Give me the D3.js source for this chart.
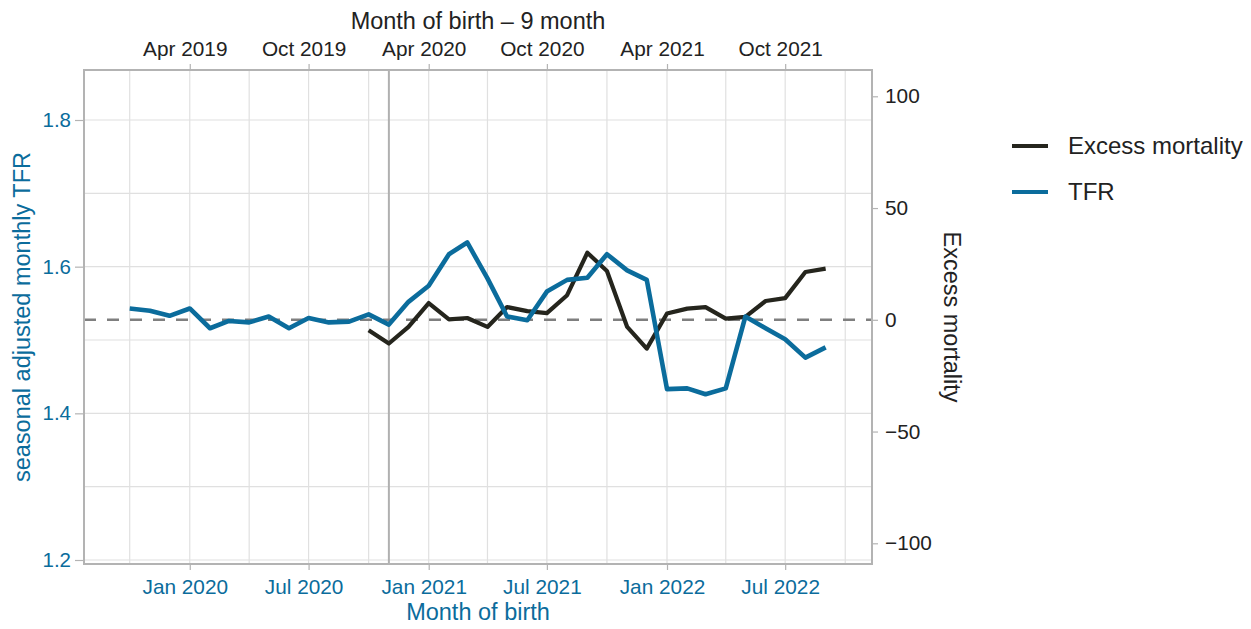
<!DOCTYPE html>
<html>
<head>
<meta charset="utf-8">
<script src="https://cdn.jsdelivr.net/npm/d3@7"></script>
<style>
  body { margin: 0; background: #fff; }
  svg { font-family: "Liberation Sans", Arial, sans-serif; }
</style>
</head>
<body>
<svg id="chart" width="1251" height="629"></svg>
<script>
// month of birth (first of month)
var months = [
  "2019-10", "2019-11", "2019-12", "2020-01", "2020-02", "2020-03", "2020-04", "2020-05", "2020-06",
  "2020-07", "2020-08", "2020-09", "2020-10", "2020-11", "2020-12", "2021-01", "2021-02", "2021-03",
  "2021-04", "2021-05", "2021-06", "2021-07", "2021-08", "2021-09", "2021-10", "2021-11", "2021-12",
  "2022-01", "2022-02", "2022-03", "2022-04", "2022-05", "2022-06", "2022-07", "2022-08", "2022-09"
];
var tfr = [
  1.543, 1.540, 1.533, 1.543, 1.516, 1.526, 1.524, 1.532, 1.516,
  1.530, 1.524, 1.525, 1.535, 1.521, 1.552, 1.574, 1.617, 1.633,
  1.584, 1.532, 1.527, 1.566, 1.582, 1.585, 1.617, 1.595, 1.582,
  1.433, 1.434, 1.426, 1.434, 1.532, 1.516, 1.501, 1.476, 1.490
];
var excess = [
  null, null, null, null, null, null, null, null, null,
  null, null, null, -4.7, -10.6, -3.2, 7.5, 0.2, 0.8,
  -3.2, 5.7, 3.9, 3.0, 11.0, 30.0, 21.8, -3.2, -12.9,
  2.8, 5.0, 5.7, 0.5, 1.3, 8.4, 9.7, 21.4, 22.9
];
var leftTicks = [1.2, 1.4, 1.6, 1.8];
var leftMinor = [1.3, 1.5, 1.7];
var rightTicks = [-100, -50, 0, 50, 100];
var majorMonths = ["2020-01", "2020-07", "2021-01", "2021-07", "2022-01", "2022-07"];
var minorMonths = ["2019-10", "2020-04", "2020-10", "2021-04", "2021-10", "2022-04", "2022-10"];
var markerMonth = "2020-11";
var seriesNames = ["Excess mortality", "TFR"];

var blue = "#0b6c9c", dark = "#25251d", textDark = "#222222";
var parse = d3.utcParse("%Y-%m");
var fmt = d3.utcFormat("%b %Y");

var data = months.map(function (m, i) {
  return { date: parse(m), tfr: tfr[i], excess: excess[i] };
});

var panel = { left: 84, right: 872, top: 70, bottom: 564 };
var svg = d3.select("#chart");

var x = d3.scaleUtc()
  .domain([new Date(Date.UTC(2019, 6, 23)), new Date(Date.UTC(2022, 10, 11))])
  .range([panel.left, panel.right]);
var yL = d3.scaleLinear().domain([1.2, 1.8]).range([560, 120]);
var yR = d3.scaleLinear().domain([-100, 100]).range([543.3, 96.3]);

// grid
var grid = svg.append("g").attr("stroke", "#e0e0e0").attr("stroke-width", 1.2);
grid.selectAll(".hg").data(leftTicks.concat(leftMinor)).enter().append("line")
  .attr("x1", panel.left).attr("x2", panel.right)
  .attr("y1", function (d) { return yL(d); }).attr("y2", function (d) { return yL(d); });
grid.selectAll(".vg").data(majorMonths.concat(minorMonths)).enter().append("line")
  .attr("y1", panel.top).attr("y2", panel.bottom)
  .attr("x1", function (d) { return x(parse(d)); }).attr("x2", function (d) { return x(parse(d)); });

// marker line and zero line
svg.append("line")
  .attr("x1", x(parse(markerMonth))).attr("x2", x(parse(markerMonth)))
  .attr("y1", panel.top).attr("y2", panel.bottom)
  .attr("stroke", "#b0b0b0").attr("stroke-width", 2);
svg.append("line")
  .attr("x1", panel.left).attr("x2", panel.right)
  .attr("y1", yR(0)).attr("y2", yR(0))
  .attr("stroke", "#7f7f7f").attr("stroke-width", 2.6)
  .attr("stroke-dasharray", "12,11");

// series
svg.append("path").datum(data)
  .attr("fill", "none").attr("stroke", dark).attr("stroke-width", 4.2)
  .attr("stroke-linejoin", "round")
  .attr("d", d3.line()
    .defined(function (d) { return d.excess !== null; })
    .x(function (d) { return x(d.date); })
    .y(function (d) { return yR(d.excess); }));
svg.append("path").datum(data)
  .attr("fill", "none").attr("stroke", blue).attr("stroke-width", 4.6)
  .attr("stroke-linejoin", "round")
  .attr("d", d3.line()
    .x(function (d) { return x(d.date); })
    .y(function (d) { return yL(d.tfr); }));

// panel border
svg.append("rect")
  .attr("x", panel.left).attr("y", panel.top)
  .attr("width", panel.right - panel.left).attr("height", panel.bottom - panel.top)
  .attr("fill", "none").attr("stroke", "#b3b3b3").attr("stroke-width", 2);

function styleAxis(g, color, size) {
  g.select(".domain").remove();
  g.selectAll(".tick line").attr("stroke", "#b3b3b3").attr("stroke-width", 1.2);
  g.selectAll(".tick text").attr("fill", color).attr("font-size", size)
    .attr("font-family", "Liberation Sans, Arial, sans-serif");
}

// axes
svg.append("g")
  .attr("transform", "translate(0," + (panel.bottom + 1) + ")")
  .call(d3.axisBottom(x).tickValues(majorMonths.map(parse)).tickFormat(fmt).tickSize(5).tickPadding(9))
  .call(styleAxis, blue, 20.8)
  .selectAll(".tick text").attr("dx", -5);
svg.append("g")
  .attr("transform", "translate(0," + (panel.top - 1) + ")")
  .call(d3.axisTop(x).tickValues(majorMonths.map(parse))
    .tickFormat(function (d) { return fmt(d3.utcMonth.offset(d, -9)); })
    .tickSize(5).tickPadding(8))
  .call(styleAxis, textDark, 20.8)
  .selectAll(".tick text").attr("dx", -5);
svg.append("g")
  .attr("transform", "translate(" + (panel.left - 1) + ",0)")
  .call(d3.axisLeft(yL).tickValues(leftTicks).tickFormat(d3.format(".1f")).tickSize(8).tickPadding(4))
  .call(styleAxis, blue, 20.5);
svg.append("g")
  .attr("transform", "translate(" + (panel.right + 1) + ",0)")
  .call(d3.axisRight(yR).tickValues(rightTicks).tickFormat(d3.format("d")).tickSize(5).tickPadding(7))
  .call(styleAxis, textDark, 20.8);

// titles
var mid = (panel.left + panel.right) / 2;
svg.append("text").attr("x", mid).attr("y", 29).attr("text-anchor", "middle")
  .attr("font-size", 23.5).attr("fill", textDark).text("Month of birth \u2013 9 month");
svg.append("text").attr("x", mid).attr("y", 620).attr("text-anchor", "middle")
  .attr("font-size", 23.5).attr("fill", blue).text("Month of birth");
svg.append("text").attr("transform", "translate(30,317) rotate(-90)").attr("text-anchor", "middle")
  .attr("font-size", 23.5).attr("fill", blue).text("seasonal adjusted monthly TFR");
svg.append("text").attr("transform", "translate(944,317) rotate(90)").attr("text-anchor", "middle")
  .attr("font-size", 23.5).attr("fill", textDark).text("Excess mortality");

// legend
var legend = svg.append("g").attr("transform", "translate(1012,146)");
var items = legend.selectAll("g").data(seriesNames).enter().append("g")
  .attr("transform", function (d, i) { return "translate(0," + i * 46 + ")"; });
items.append("line").attr("x1", 0).attr("x2", 36)
  .attr("stroke", function (d, i) { return i === 0 ? dark : blue; }).attr("stroke-width", 4.2);
items.append("text").attr("x", 56).attr("dy", "0.35em")
  .attr("font-size", 24).attr("fill", textDark).text(function (d) { return d; });
</script>
</body>
</html>
